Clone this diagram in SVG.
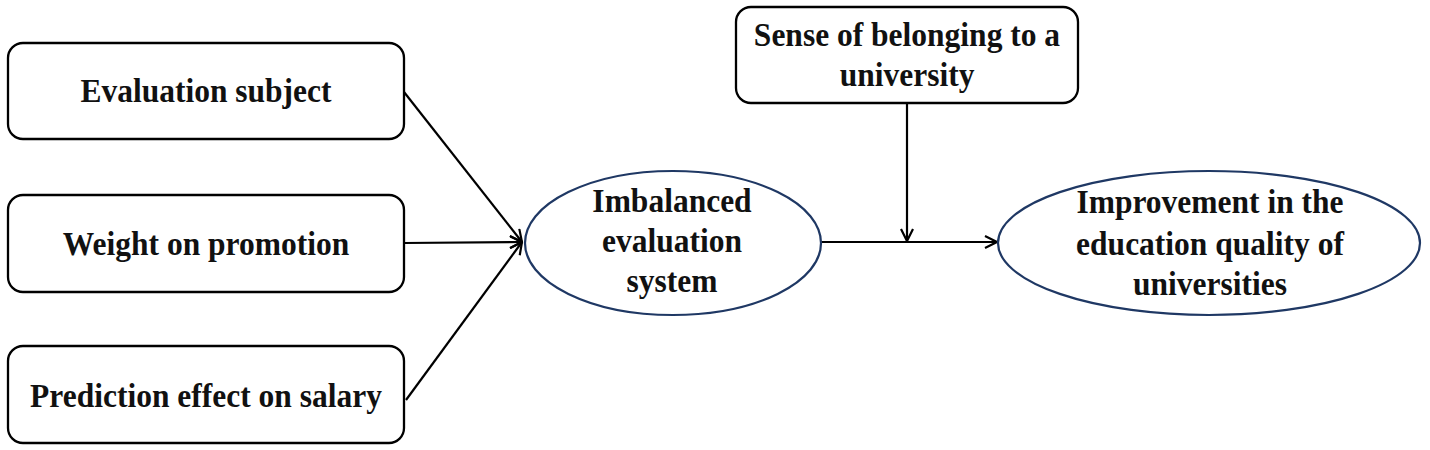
<svg xmlns="http://www.w3.org/2000/svg" width="1430" height="450" viewBox="0 0 1430 450">
<style>
.box{fill:#fff;stroke:#000;stroke-width:2.3}
.ell{fill:#fff;stroke:#1f3864;stroke-width:2.2}
.lbl{font-family:"Liberation Serif","Times New Roman",serif;font-weight:bold;font-size:31.5px;fill:#111;text-anchor:middle}
.conn{stroke:#000;stroke-width:2.2;fill:none}
</style>
<defs>
<marker id="arr" viewBox="0 0 14 14" refX="13" refY="7" markerWidth="14" markerHeight="14" markerUnits="userSpaceOnUse" orient="auto">
<path d="M1,1 L13,7 L1,13" fill="none" stroke="#000" stroke-width="2.2"/>
</marker>
</defs>
<rect width="1430" height="450" fill="#fff"/>
<g id="connectors">
<line class="conn" x1="404" y1="92" x2="522" y2="242" marker-end="url(#arr)"/>
<line class="conn" x1="404" y1="243" x2="522" y2="242" marker-end="url(#arr)"/>
<line class="conn" x1="406" y1="400" x2="522" y2="242" marker-end="url(#arr)"/>
<line class="conn" x1="821" y1="242" x2="997" y2="242" marker-end="url(#arr)"/>
<line class="conn" x1="907" y1="103" x2="907" y2="241" marker-end="url(#arr)"/>
</g>
<g id="node-evaluation-subject">
<rect class="box" x="8" y="43" width="396" height="96" rx="15"/>
<text class="lbl" transform="translate(206,102) scale(1,1.1)">Evaluation subject</text>
</g>
<g id="node-weight-on-promotion">
<rect class="box" x="8" y="195" width="396" height="97" rx="15"/>
<text class="lbl" transform="translate(206,255) scale(1,1.1)">Weight on promotion</text>
</g>
<g id="node-prediction-effect">
<rect class="box" x="8" y="346" width="396" height="97" rx="15"/>
<text class="lbl" transform="translate(206,407) scale(1,1.1)">Prediction effect on salary</text>
</g>
<g id="node-sense-of-belonging">
<rect class="box" x="736" y="7" width="342" height="96" rx="15"/>
<text class="lbl" transform="translate(907,46) scale(1,1.1)">Sense of belonging to a</text>
<text class="lbl" transform="translate(907,86) scale(1,1.1)">university</text>
</g>
<g id="node-imbalanced">
<ellipse class="ell" cx="673" cy="243" rx="148" ry="72"/>
<text class="lbl" transform="translate(672,212) scale(1,1.1)">Imbalanced</text>
<text class="lbl" transform="translate(672,252) scale(1,1.1)">evaluation</text>
<text class="lbl" transform="translate(672,292) scale(1,1.1)">system</text>
</g>
<g id="node-improvement">
<ellipse class="ell" cx="1209" cy="243" rx="211" ry="72"/>
<text class="lbl" transform="translate(1210,213) scale(1,1.1)">Improvement in the</text>
<text class="lbl" transform="translate(1210,255) scale(1,1.1)">education quality of</text>
<text class="lbl" transform="translate(1210,295) scale(1,1.1)">universities</text>
</g>
</svg>
